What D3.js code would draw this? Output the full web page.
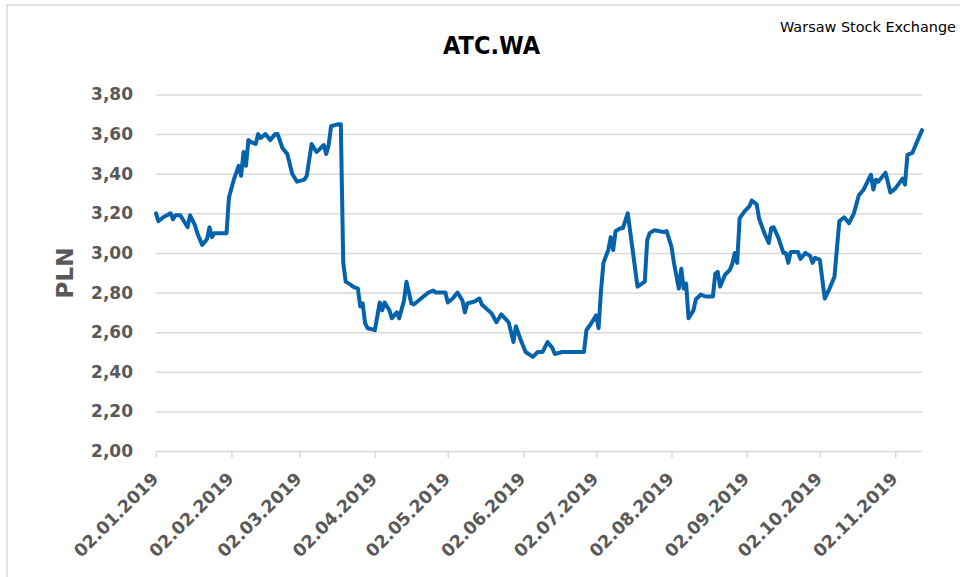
<!DOCTYPE html>
<html>
<head>
<meta charset="utf-8">
<script src="https://cdn.jsdelivr.net/npm/d3@7"></script>
<style>
body { margin: 0; background: #fff; }
svg text { font-family: "DejaVu Sans", sans-serif; }
</style>
</head>
<body>
<svg id="chart" width="960" height="577"></svg>
<script>
// daily close (PLN)
const dates = ["2019-01-02","2019-01-03","2019-01-05","2019-01-08","2019-01-09","2019-01-10","2019-01-12","2019-01-15","2019-01-16","2019-01-18",
  "2019-01-19","2019-01-21","2019-01-23","2019-01-24","2019-01-25","2019-01-26","2019-01-31","2019-02-01","2019-02-03","2019-02-05",
  "2019-02-06","2019-02-07","2019-02-08","2019-02-09","2019-02-10","2019-02-12","2019-02-13","2019-02-14","2019-02-16","2019-02-18",
  "2019-02-20","2019-02-21","2019-02-23","2019-02-25","2019-02-27","2019-02-28","2019-03-01","2019-03-04","2019-03-05","2019-03-07",
  "2019-03-09","2019-03-10","2019-03-12","2019-03-13","2019-03-14","2019-03-15","2019-03-18","2019-03-19","2019-03-20","2019-03-21",
  "2019-03-23","2019-03-24","2019-03-26","2019-03-27","2019-03-28","2019-03-29","2019-03-30","2019-04-02","2019-04-03","2019-04-04",
  "2019-04-05","2019-04-06","2019-04-08","2019-04-09","2019-04-11","2019-04-12","2019-04-14","2019-04-15","2019-04-17","2019-04-18",
  "2019-04-20","2019-04-23","2019-04-24","2019-04-26","2019-04-27","2019-05-01","2019-05-02","2019-05-04","2019-05-06","2019-05-08",
  "2019-05-09","2019-05-10","2019-05-13","2019-05-15","2019-05-16","2019-05-20","2019-05-22","2019-05-24","2019-05-27","2019-05-29",
  "2019-05-30","2019-06-01","2019-06-03","2019-06-06","2019-06-08","2019-06-10","2019-06-12","2019-06-14","2019-06-15","2019-06-18",
  "2019-06-27","2019-06-28","2019-06-30","2019-07-02","2019-07-03","2019-07-04","2019-07-05","2019-07-07","2019-07-08","2019-07-09",
  "2019-07-10","2019-07-12","2019-07-13","2019-07-15","2019-07-19","2019-07-22","2019-07-23","2019-07-24","2019-07-26","2019-07-30",
  "2019-07-31","2019-08-02","2019-08-03","2019-08-05","2019-08-06","2019-08-07","2019-08-08","2019-08-09","2019-08-11","2019-08-12",
  "2019-08-14","2019-08-16","2019-08-19","2019-08-20","2019-08-21","2019-08-22","2019-08-24","2019-08-26","2019-08-27","2019-08-28",
  "2019-08-29","2019-08-30","2019-09-01","2019-09-03","2019-09-04","2019-09-06","2019-09-07","2019-09-09","2019-09-11","2019-09-12",
  "2019-09-13","2019-09-15","2019-09-17","2019-09-18","2019-09-19","2019-09-20","2019-09-23","2019-09-24","2019-09-26","2019-09-28",
  "2019-09-29","2019-09-30","2019-10-02","2019-10-04","2019-10-06","2019-10-08","2019-10-10","2019-10-12","2019-10-14","2019-10-16",
  "2019-10-18","2019-10-20","2019-10-23","2019-10-24","2019-10-25","2019-10-26","2019-10-29","2019-10-31","2019-11-02","2019-11-05",
  "2019-11-06","2019-11-07","2019-11-09","2019-11-13"];
const prices = [3.20,3.16,3.18,3.20,3.17,3.19,3.19,3.13,3.19,3.14,
  3.10,3.04,3.07,3.13,3.08,3.10,3.10,3.28,3.37,3.44,
  3.39,3.51,3.44,3.57,3.56,3.55,3.60,3.58,3.60,3.57,
  3.60,3.60,3.53,3.50,3.40,3.38,3.36,3.37,3.39,3.55,
  3.51,3.52,3.545,3.50,3.545,3.64,3.65,3.65,2.95,2.855,
  2.84,2.83,2.82,2.73,2.745,2.645,2.62,2.61,2.68,2.75,
  2.71,2.75,2.71,2.67,2.70,2.67,2.76,2.855,2.745,2.74,
  2.76,2.79,2.80,2.81,2.80,2.80,2.75,2.77,2.80,2.76,
  2.70,2.745,2.755,2.77,2.74,2.695,2.65,2.69,2.65,2.55,
  2.63,2.56,2.50,2.475,2.50,2.50,2.55,2.52,2.49,2.50,
  2.50,2.61,2.645,2.685,2.62,2.81,2.95,3.015,3.08,3.015,
  3.11,3.125,3.125,3.20,2.83,2.855,3.065,3.10,3.115,3.105,
  3.11,3.03,2.95,2.82,2.92,2.82,2.845,2.67,2.71,2.765,
  2.79,2.78,2.78,2.895,2.905,2.83,2.89,2.915,2.945,3.00,
  2.95,3.175,3.21,3.235,3.265,3.245,3.175,3.105,3.05,3.125,
  3.13,3.075,3.00,3.00,2.95,3.005,3.005,2.97,3.00,2.985,
  2.95,2.975,2.965,2.77,2.82,2.88,3.16,3.18,3.15,3.20,
  3.29,3.32,3.395,3.32,3.37,3.36,3.405,3.305,3.325,3.375,
  3.345,3.495,3.505,3.62];

const tickDates = ["2019-01-02","2019-02-02","2019-03-02","2019-04-02","2019-05-02","2019-06-02",
  "2019-07-02","2019-08-02","2019-09-02","2019-10-02","2019-11-02"];
const yTicks = [2.0,2.2,2.4,2.6,2.8,3.0,3.2,3.4,3.6,3.8];

const title = "ATC.WA";
const source = "Warsaw Stock Exchange";
const yTitle = "PLN";

const parse = d3.timeParse("%Y-%m-%d");
const data = dates.map((d, i) => ({date: parse(d), value: prices[i]}));

const plot = {left: 156, right: 922, top: 94.5, bottom: 451};
const grey = "#d9d9d9", labelColor = "#595959", lineColor = "#0563ab";

const svg = d3.select("#chart");

// outer chart border
svg.append("rect")
  .attr("x", 7).attr("y", 5)
  .attr("width", 980).attr("height", 600)
  .attr("fill", "#fff")
  .attr("stroke", grey).attr("stroke-width", 1.5);

const x = d3.scaleTime()
  .domain([parse("2019-01-02"), parse("2019-11-13")])
  .range([plot.left, plot.right]);
const y = d3.scaleLinear()
  .domain([2.0, 3.8])
  .range([plot.bottom, plot.top]);

const fmtY = v => d3.format(".2f")(v).replace(".", ",");
const fmtX = d3.timeFormat("%d.%m.%Y");

// y axis: labels + gridlines
const yAxis = svg.append("g")
  .attr("transform", "translate(" + plot.left + ",0)")
  .call(d3.axisLeft(y).tickValues(yTicks).tickFormat(fmtY)
    .tickSize(-(plot.right - plot.left)).tickPadding(23));
yAxis.select(".domain").remove();
yAxis.selectAll(".tick line")
  .attr("stroke", grey).attr("stroke-width", 1.5)
  .filter(d => d === 2.0).remove();
yAxis.selectAll(".tick text")
  .attr("fill", labelColor)
  .attr("font-size", 17)
  .attr("font-weight", "bold");

// x axis
const xAxis = svg.append("g")
  .attr("transform", "translate(0," + plot.bottom + ")")
  .call(d3.axisBottom(x).tickValues(tickDates.map(parse)).tickFormat(fmtX)
    .tickSize(7).tickSizeOuter(0));
xAxis.select(".domain").attr("stroke", grey).attr("stroke-width", 1.5);
xAxis.selectAll(".tick line").attr("stroke", grey).attr("stroke-width", 1.5);
xAxis.selectAll(".tick text")
  .attr("fill", labelColor)
  .attr("font-size", 17.5)
  .attr("font-weight", "bold")
  .attr("text-anchor", "end")
  .attr("dy", null)
  .attr("y", null)
  .attr("transform", "translate(3,29) rotate(-45)");

// price line
const line = d3.line()
  .x(d => x(d.date))
  .y(d => y(d.value));

svg.append("path")
  .datum(data)
  .attr("d", line)
  .attr("fill", "none")
  .attr("stroke", lineColor)
  .attr("stroke-width", 4)
  .attr("stroke-linejoin", "round")
  .attr("stroke-linecap", "round");

// titles
svg.append("text")
  .attr("x", 491.5).attr("y", 53.5)
  .attr("text-anchor", "middle")
  .attr("font-family", "Liberation Sans, Arial, sans-serif")
  .attr("font-size", 25.5).attr("font-weight", "bold")
  .attr("textLength", 97).attr("lengthAdjust", "spacingAndGlyphs")
  .attr("fill", "#000")
  .text(title);

svg.append("text")
  .attr("x", 956).attr("y", 31.7)
  .attr("text-anchor", "end")
  .attr("font-family", "Liberation Sans, Arial, sans-serif")
  .attr("font-size", 14)
  .attr("textLength", 176).attr("lengthAdjust", "spacingAndGlyphs")
  .attr("fill", "#000")
  .text(source);

svg.append("text")
  .attr("transform", "translate(73,273) rotate(-90)")
  .attr("text-anchor", "middle")
  .attr("fill", labelColor)
  .attr("font-size", 23).attr("font-weight", "bold")
  .text(yTitle);
</script>
</body>
</html>
